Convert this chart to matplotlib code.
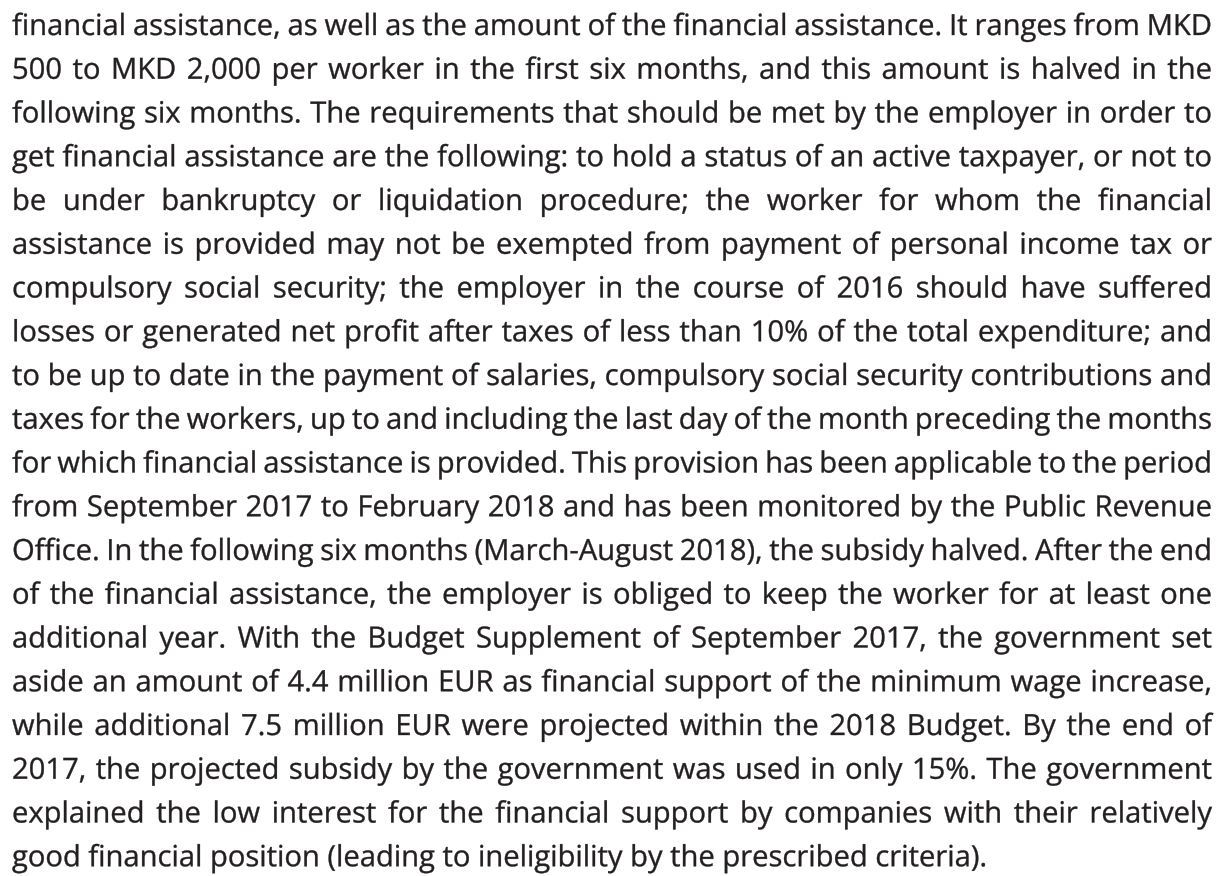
import matplotlib
matplotlib.use('Agg')
import matplotlib.pyplot as plt
from matplotlib.font_manager import FontProperties
from matplotlib.textpath import TextPath, TextToPath
from matplotlib.patches import PathPatch

W, H = 1226, 876

lines = [
    "financial assistance, as well as the amount of the financial assistance. It ranges from MKD",
    "500 to MKD 2,000 per worker in the first six months, and this amount is halved in the",
    "following six months. The requirements that should be met by the employer in order to",
    "get financial assistance are the following: to hold a status of an active taxpayer, or not to",
    "be under bankruptcy or liquidation procedure; the worker for whom the financial",
    "assistance is provided may not be exempted from payment of personal income tax or",
    "compulsory social security; the employer in the course of 2016 should have suffered",
    "losses or generated net profit after taxes of less than 10% of the total expenditure; and",
    "to be up to date in the payment of salaries, compulsory social security contributions and",
    "taxes for the workers, up to and including the last day of the month preceding the months",
    "for which financial assistance is provided. This provision has been applicable to the period",
    "from September 2017 to February 2018 and has been monitored by the Public Revenue",
    "Office. In the following six months (March-August 2018), the subsidy halved. After the end",
    "of the financial assistance, the employer is obliged to keep the worker for at least one",
    "additional year. With the Budget Supplement of September 2017, the government set",
    "aside an amount of 4.4 million EUR as financial support of the minimum wage increase,",
    "while additional 7.5 million EUR were projected within the 2018 Budget. By the end of",
    "2017, the projected subsidy by the government was used in only 15%. The government",
    "explained the low interest for the financial support by companies with their relatively",
    "good financial position (leading to ineligibility by the prescribed criteria).",
]

left, right = 12, 1212
first_base = 35
step = 43.75
size_px = 21 * 100 / 72
color = '#231f20'

fig = plt.figure(figsize=(W / 100, H / 100), dpi=100)
fig.patch.set_facecolor('white')
ax = fig.add_axes([0, 0, 1, 1])
ax.set_xlim(0, W)
ax.set_ylim(0, H)
ax.axis('off')

fp = FontProperties(family='Open Sans', size=size_px)
t2p = TextToPath()


def width_of(s):
    w, h, d = t2p.get_text_width_height_descent(s, fp, ismath=False)
    return w


space_w = width_of("a a") - width_of("aa")

for i, line in enumerate(lines):
    y = H - (first_base + i * step)
    words = line.split(' ')
    widths = [width_of(w) for w in words]
    # justified, except the paragraph's last line
    if i == len(lines) - 1:
        gap = space_w
    else:
        gap = (right - left - sum(widths)) / (len(words) - 1)
    x = left
    for w, ww in zip(words, widths):
        path = TextPath((x, y), w, size=size_px, prop=fp)
        ax.add_patch(PathPatch(path, facecolor=color, edgecolor=color, lw=0.25))
        x += ww + gap

fig.savefig('out.png', dpi=100)
